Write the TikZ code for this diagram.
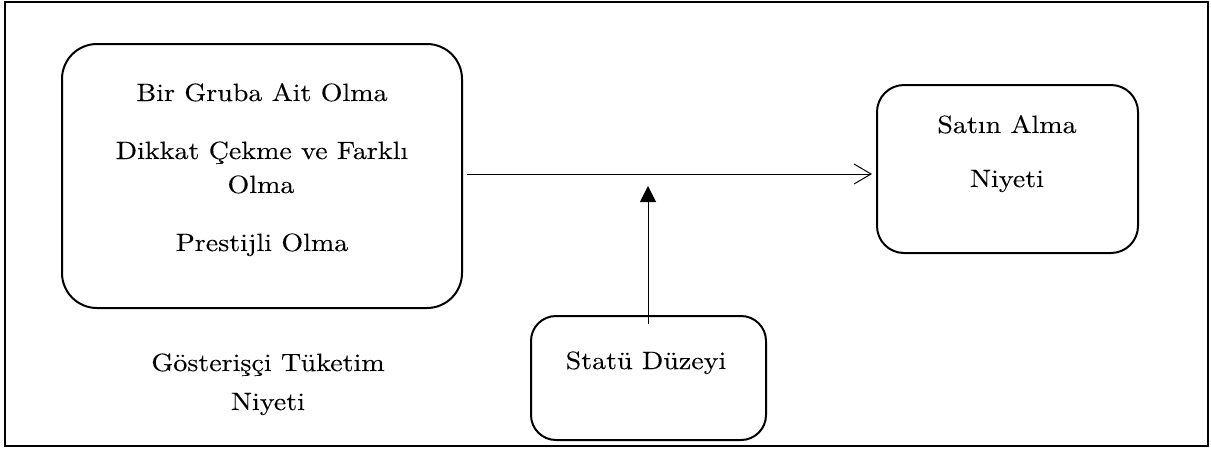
\documentclass[tikz,border=0pt]{standalone}
\usepackage{fontspec}
\newfontfamily\palfont{lmroman10-regular.otf}[FakeStretch=1.12,FakeBold=0.12]
\usetikzlibrary{arrows.meta}
\begin{document}
\begin{tikzpicture}[x=1pt,y=-1pt,
  box/.style={draw,line width=2pt,rounded corners=#1},
  txt/.style={anchor=base,inner sep=0pt,font=\palfont\fontsize{25}{29}\selectfont},
  conn/.style={line width=1pt}]
\useasboundingbox (0,0) rectangle (1211,448);
\draw[line width=1.6pt] (5,2) rectangle (1208,446);
% boxes
\node[box=35pt,minimum width=400pt,minimum height=264pt] (lb) at (262,176) {};
\node[box=27pt,minimum width=261pt,minimum height=168pt] (rb) at (1007.5,169) {};
\node[box=25pt,minimum width=235pt,minimum height=124pt] (sb) at (648.5,378) {};
% texts
\node[txt] (t1) at (262,101) {Bir Gruba Ait Olma};
\node[txt] (t2) at (262,159) {Dikkat Çekme ve Farklı};
\node[txt] (t3) at (261,193) {Olma};
\node[txt] (t4) at (262,251) {Prestijli Olma};
\node[txt] (g1) at (268,371) {Gösterişçi Tüketim};
\node[txt] (g2) at (268,410) {Niyeti};
\node[txt] (s1) at (1007,133) {Satın Alma};
\node[txt] (s2) at (1007,187) {Niyeti};
\node[txt] (d1) at (646,369) {Statü Düzeyi};
% connectors
\coordinate (hs) at ([xshift=4pt]lb.east |- 0,174);
\coordinate (he) at ([xshift=-4pt]rb.west |- 0,174);
\draw[conn,-{Straight Barb[length=17pt,width=20pt,line width=1pt]}] (hs) -- (he);
\coordinate (vs) at ([yshift=-9pt]sb.north -| 648,0);
\coordinate (ve) at (648,186);
\draw[conn,-{Triangle[length=16pt,width=16pt]}] (vs) -- (ve);
\end{tikzpicture}
\end{document}
